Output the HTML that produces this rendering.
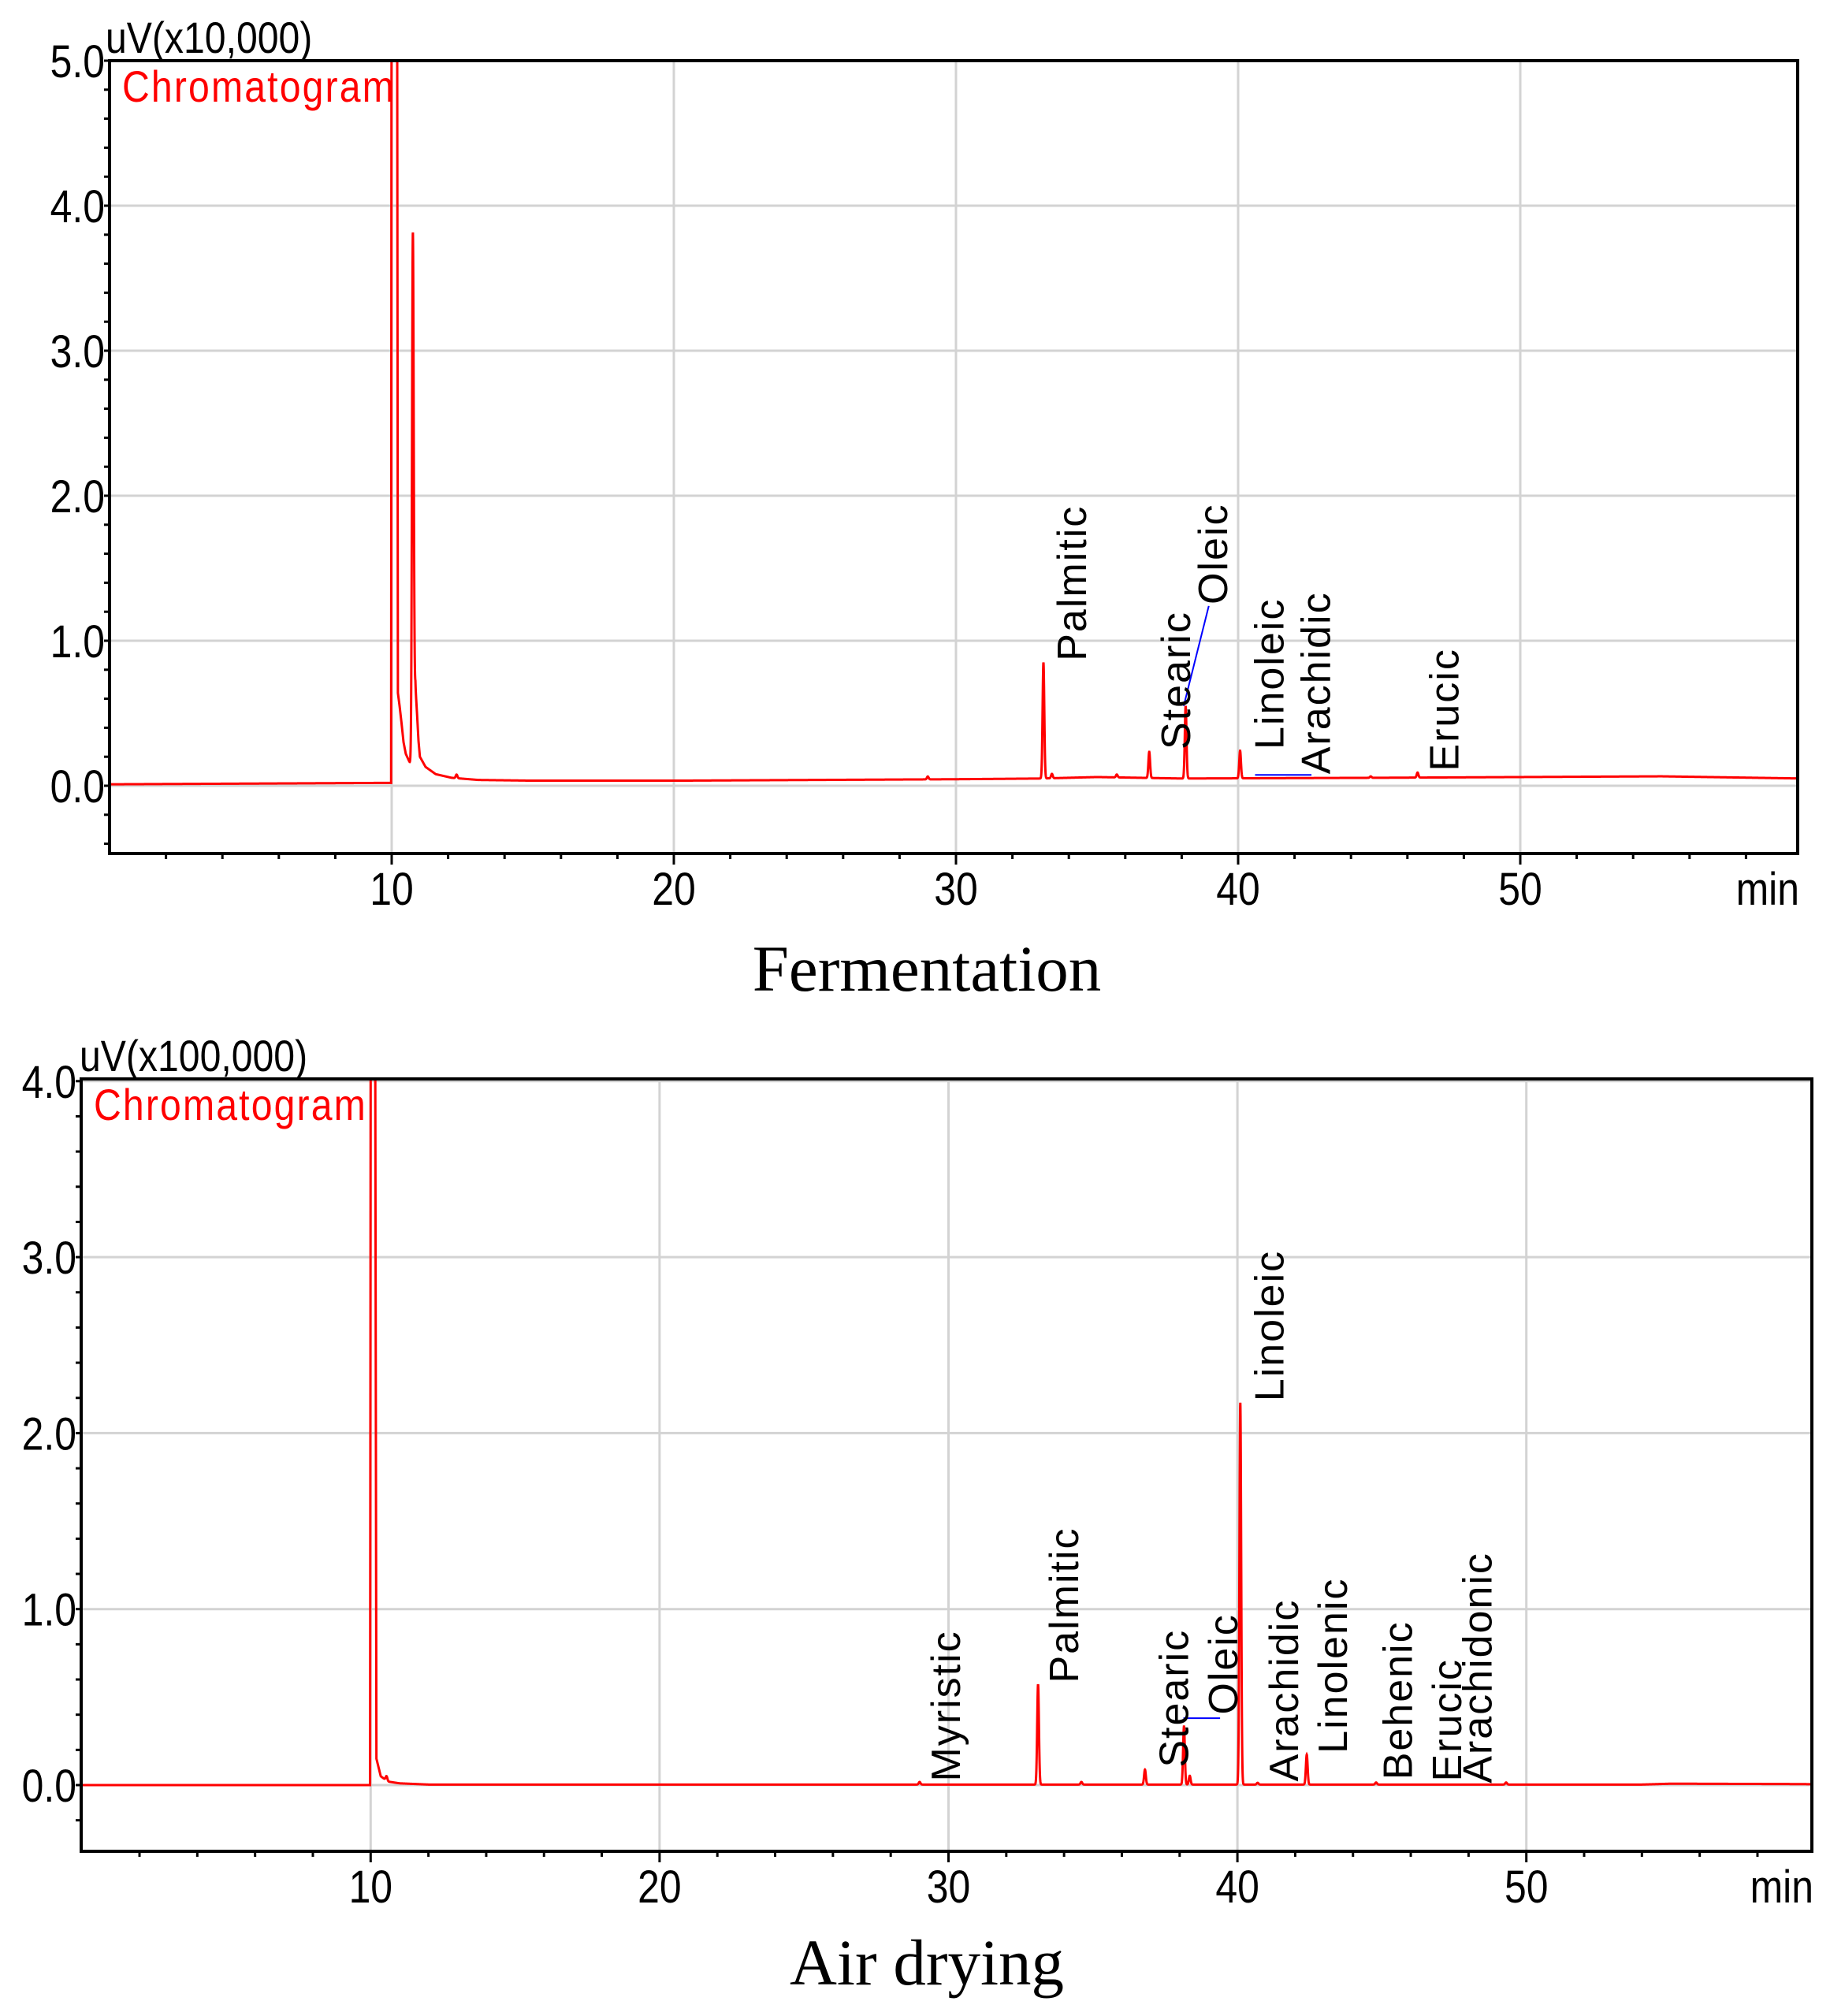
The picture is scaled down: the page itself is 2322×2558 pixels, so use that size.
<!DOCTYPE html>
<html><head><meta charset="utf-8"><style>
html,body{margin:0;padding:0;background:#fff;}
svg{display:block;}
text{font-family:"Liberation Sans",Arial,sans-serif;}
</style></head><body>
<svg id="svg" width="2322" height="2558" viewBox="0 0 2322 2558" xmlns="http://www.w3.org/2000/svg">
<defs>
<clipPath id="clipTop"><rect x="139" y="77" width="2142" height="1006"/></clipPath>
<clipPath id="clipBot"><rect x="103" y="1369" width="2196" height="980"/></clipPath>
</defs>
<text x="1176" y="1257" text-anchor="middle" font-size="83" style="font-family:'Liberation Serif',serif">Fermentation</text>
<text x="1176" y="2518" text-anchor="middle" font-size="83" style="font-family:'Liberation Serif',serif">Air drying</text>
</svg>
<script>
// ---------- Data: Fermentation (uV x10,000) ----------
const topTrace = [[0,0.01],[5,0.015],[9.98,0.02],[10.0,8],[10.18,8],[10.22,0.64],[10.28,0.55],[10.35,0.43],[10.42,0.3],[10.5,0.22],[10.64,0.16],[10.69,0.15],[10.84,0.69],[10.9,0.49],[10.95,0.31],[11.0,0.2],[11.2,0.13],[11.56,0.08],[12.12,0.055],[13.07,0.04],[15,0.035],[20,0.035],[25,0.04],[30,0.045],[33,0.05],[35,0.06],[38,0.05],[45,0.055],[50,0.06],[55,0.065],[60,0.05]];
const topPeakTimes = [10.75,12.3,29.0,33.1,33.4,35.7,36.85,38.14,40.07,44.7,46.36];
const topPeakHeights = [3.45,0.025,0.02,0.8,0.03,0.02,0.18,0.5,0.19,0.01,0.035];
const topYTicks = [0.0,1.0,2.0,3.0,4.0,5.0];
const topLabels = ["Palmitic","Stearic","Oleic","Linoleic","Arachidic","Erucic"];
const topLabelX = [34.1,37.8,39.1,41.1,42.75,47.3];
const topLabelY = [0.86,0.25,1.25,0.25,0.08,0.1];
const topBlueLines = [[38.07,0.55,38.96,1.24],[40.6,0.075,42.6,0.075]];

// ---------- Data: Air drying (uV x100,000) ----------
const botTrace = [[0,0],[9.98,0],[10.02,8],[10.12,8],[10.2,0.15],[10.35,0.05],[10.6,0.02],[11,0.01],[12,0.003],[54,0.003],[55,0.008],[59,0.006],[60,0.005]];
const botPeakTimes = [10.55,29.0,33.1,34.6,36.8,38.15,38.35,40.1,40.7,42.4,44.8,49.3];
const botPeakHeights = [0.025,0.015,0.57,0.015,0.085,0.33,0.05,2.17,0.01,0.17,0.012,0.012];
const botYTicks = [0.0,1.0,2.0,3.0,4.0];
const botLabels = ["Myristic","Palmitic","Stearic","Oleic","Linoleic","Arachidic","Linolenic","Behenic","Erucic","Arachidonic"];
const botLabelX = [29.9,34.0,37.8,39.5,41.1,41.6,43.3,45.55,47.25,48.3];
const botLabelY = [0.02,0.58,0.1,0.4,2.18,0.02,0.18,0.03,0.02,0.01];
const botBlueLines = [[38.13,0.38,39.4,0.38]];

const xTicks = [10,20,30,40,50];
const NS = "http://www.w3.org/2000/svg";
const svg = document.getElementById("svg");
function mk(tag, attrs, parent){const e=document.createElementNS(NS,tag);for(const k in attrs)e.setAttribute(k,attrs[k]);(parent||svg).appendChild(e);return e;}
function ctext(x,y,size,sx,anchor,parent,extra){
  const a = {x:0,y:0,"font-size":size,"text-anchor":anchor,transform:"translate("+x+" "+y+") scale("+sx+" 1)"};
  for(const k in (extra||{})) a[k]=extra[k];
  return mk("text",a,parent);
}

function drawPanel(cfg){
  const g = mk("g",{});
  
  
  const X = t => cfg.x0 + t*cfg.pxMin;
  const Y = v => cfg.y0 - v*cfg.pxUnit;
  cfg.yTicks.forEach(v=>{
    const l = mk("line",{x1:cfg.left,x2:cfg.right,y1:Y(v),y2:Y(v),stroke:"#d3d3d3","stroke-width":3},g);
    
    
  });
  xTicks.forEach(t=>{
    const l = mk("line",{x1:X(t),x2:X(t),y1:cfg.top,y2:cfg.bottom,stroke:"#d3d3d3","stroke-width":3},g);
    
    
  });
  for(let v=cfg.yMin; v<=cfg.yMax+1e-6; v+=0.2){
    const l = mk("line",{x1:cfg.left-7,x2:cfg.left,y1:Y(v),y2:Y(v),stroke:"#000","stroke-width":3},g);
    
    
  }
  for(let t=2; t<cfg.xMax; t+=2){
    const len = (t%10===0)?14:7;
    const l = mk("line",{x1:X(t),x2:X(t),y1:cfg.bottom,y2:cfg.bottom+len,stroke:"#000","stroke-width":3},g);
    
    
  }
  const tr = cfg.trace;
  function base(t){
    for(let i=0;i<tr.length-1;i++){
      if(t>=tr[i][0] && t<=tr[i+1][0]){const f=(t-tr[i][0])/(tr[i+1][0]-tr[i][0]);return tr[i][1]+f*(tr[i+1][1]-tr[i][1]);}
    }
    return tr[tr.length-1][1];
  }
  const sig = 0.03;
  let d = "";
  for(let t=0; t<=cfg.xMax; t+=0.004){
    let v = base(t);
    for(let i=0;i<cfg.peakTimes.length;i++){
      const dt = t-cfg.peakTimes[i];
      if(Math.abs(dt)<0.3) v += cfg.peakHeights[i]*Math.exp(-dt*dt/(2*sig*sig));
    }
    let y = Y(v); if(y<cfg.top-20) y=cfg.top-20;
    d += (d?"L":"M")+X(t).toFixed(2)+" "+y.toFixed(2);
  }
  const p = mk("path",{d:d,fill:"none",stroke:"#ff0000","stroke-width":3,"clip-path":"url(#"+cfg.clip+")"},g);
  
  
  cfg.blue.forEach(b=>{
    const l = mk("line",{x1:X(b[0]),y1:Y(b[1]),x2:X(b[2]),y2:Y(b[3]),stroke:"#0000ff","stroke-width":2},g);
    
    
  });
  const fr = mk("rect",{x:cfg.left,y:cfg.top,width:cfg.right-cfg.left,height:cfg.bottom-cfg.top,fill:"none",stroke:"#000","stroke-width":4},g);
  
  
  cfg.yTicks.forEach(v=>{
    const t = ctext(cfg.left-6,Y(v)+21,58,0.86,"end",g);
    t.textContent = v.toFixed(1);
    
    
  });
  xTicks.forEach(v=>{
    const t = ctext(X(v),cfg.xLabelY,58,0.86,"middle",g);
    t.textContent = String(v);
    
    
  });
  const mn = ctext(cfg.right+2,cfg.xLabelY,58,0.86,"end",g);
  mn.textContent = "min";
  
  
  const yt = ctext(cfg.yTitleX,cfg.top-10,56,0.86,"start",g);
  yt.textContent = cfg.yTitle;
  
  
  const ch = ctext(cfg.left+16,cfg.top+52,56,0.86,"start",g,{fill:"#ff0000","letter-spacing":"2.5"});
  ch.textContent = "Chromatogram";
  
  
  cfg.labels.forEach((s,i)=>{
    const x = X(cfg.labelX[i]) + 18, y = Y(cfg.labelY[i]);
    const t = mk("text",{x:x,y:y,"font-size":52,"letter-spacing":"2",transform:"rotate(-90 "+x+" "+y+")"},g);
    t.textContent = s;
    
    
  });
}

drawPanel({name:"fermentation-chart",clip:"clipTop",left:139,right:2281,top:77,bottom:1083,x0:139,pxMin:35.8,y0:997,pxUnit:184,
  yMin:-0.4,yMax:5.0,xMax:59.85,yTicks:topYTicks,trace:topTrace,peakTimes:topPeakTimes,peakHeights:topPeakHeights,
  labels:topLabels,labelX:topLabelX,labelY:topLabelY,blue:topBlueLines,xLabelY:1148,yTitle:"uV(x10,000)",yTitleX:134});
drawPanel({name:"air-drying-chart",clip:"clipBot",left:103,right:2299,top:1369,bottom:2349,x0:103.7,pxMin:36.66,y0:2265,pxUnit:223.3,
  yMin:-0.2,yMax:4.0,xMax:59.9,yTicks:botYTicks,trace:botTrace,peakTimes:botPeakTimes,peakHeights:botPeakHeights,
  labels:botLabels,labelX:botLabelX,labelY:botLabelY,blue:botBlueLines,xLabelY:2414,yTitle:"uV(x100,000)",yTitleX:101});
</script>
</body></html>
